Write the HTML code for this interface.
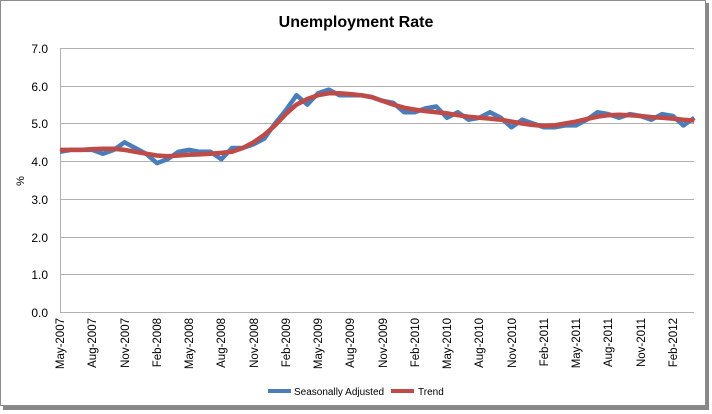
<!DOCTYPE html>
<html><head><style>
body{margin:0;background:#fff;}
svg{display:block;font-family:"Liberation Sans",sans-serif;}
</style></head><body>
<svg width="712" height="414" xmlns="http://www.w3.org/2000/svg">
<rect x="3" y="3" width="706" height="407" fill="#888"/>
<rect x="0.5" y="0.5" width="705" height="405" fill="#fff" stroke="#8c8c8c"/>
<text x="356" y="27" text-anchor="middle" font-size="16" font-weight="bold">Unemployment Rate</text>
<g stroke="#b0b0b0" stroke-width="1">
<line x1="60" y1="48.5" x2="694" y2="48.5"/>
<line x1="60" y1="86.5" x2="694" y2="86.5"/>
<line x1="60" y1="123.5" x2="694" y2="123.5"/>
<line x1="60" y1="161.5" x2="694" y2="161.5"/>
<line x1="60" y1="199.5" x2="694" y2="199.5"/>
<line x1="60" y1="237.5" x2="694" y2="237.5"/>
<line x1="60" y1="274.5" x2="694" y2="274.5"/>
<line x1="60" y1="312.5" x2="694" y2="312.5"/>
<line x1="60.5" y1="48" x2="60.5" y2="312"/>
</g>
<g font-size="12" text-anchor="end">
<text x="48" y="53">7.0</text><text x="48" y="91">6.0</text><text x="48" y="128">5.0</text>
<text x="48" y="166">4.0</text><text x="48" y="204">3.0</text><text x="48" y="242">2.0</text>
<text x="48" y="279">1.0</text><text x="48" y="317">0.0</text>
</g>
<text transform="translate(24,181) rotate(-90)" font-size="11" text-anchor="middle">%</text>
<g id="ticks" stroke="#b0b0b0"></g>
<g id="labels" font-size="11.5" text-anchor="end"></g>
<polyline id="sa" fill="none" stroke="#4a7ebb" stroke-width="4.5" stroke-linejoin="round"/>
<polyline id="tr" fill="none" stroke="#be4b48" stroke-width="4.5" stroke-linejoin="round"/>
<line x1="268" y1="391" x2="291" y2="391" stroke="#4a7ebb" stroke-width="4"/>
<text x="294" y="395" font-size="10">Seasonally Adjusted</text>
<line x1="391" y1="391" x2="414" y2="391" stroke="#be4b48" stroke-width="4"/>
<text x="418" y="395" font-size="10">Trend</text>
<g font-size="11.5" text-anchor="end">
<text transform="translate(64,318) rotate(-90)">May-2007</text>
<text transform="translate(96,318) rotate(-90)">Aug-2007</text>
<text transform="translate(129,318) rotate(-90)">Nov-2007</text>
<text transform="translate(161,318) rotate(-90)">Feb-2008</text>
<text transform="translate(193,318) rotate(-90)">May-2008</text>
<text transform="translate(225,318) rotate(-90)">Aug-2008</text>
<text transform="translate(258,318) rotate(-90)">Nov-2008</text>
<text transform="translate(290,318) rotate(-90)">Feb-2009</text>
<text transform="translate(322,318) rotate(-90)">May-2009</text>
<text transform="translate(354,318) rotate(-90)">Aug-2009</text>
<text transform="translate(387,318) rotate(-90)">Nov-2009</text>
<text transform="translate(419,318) rotate(-90)">Feb-2010</text>
<text transform="translate(451,318) rotate(-90)">May-2010</text>
<text transform="translate(483,318) rotate(-90)">Aug-2010</text>
<text transform="translate(516,318) rotate(-90)">Nov-2010</text>
<text transform="translate(548,318) rotate(-90)">Feb-2011</text>
<text transform="translate(580,318) rotate(-90)">May-2011</text>
<text transform="translate(612,318) rotate(-90)">Aug-2011</text>
<text transform="translate(645,318) rotate(-90)">Nov-2011</text>
<text transform="translate(677,318) rotate(-90)">Feb-2012</text>
</g>
<script>
var sa=[4.25,4.3,4.3,4.3,4.2,4.3,4.5,4.35,4.2,3.95,4.05,4.25,4.3,4.25,4.25,4.05,4.35,4.35,4.45,4.6,5.0,5.35,5.75,5.5,5.8,5.9,5.75,5.75,5.75,5.7,5.6,5.55,5.3,5.3,5.4,5.45,5.15,5.3,5.1,5.15,5.3,5.15,4.9,5.1,5.0,4.9,4.9,4.95,4.95,5.1,5.3,5.25,5.15,5.25,5.2,5.1,5.25,5.2,4.95,5.15];
var tr=[4.3,4.3,4.3,4.32,4.33,4.33,4.3,4.25,4.2,4.15,4.13,4.15,4.17,4.18,4.2,4.22,4.25,4.35,4.5,4.7,4.95,5.25,5.5,5.65,5.75,5.8,5.8,5.78,5.75,5.7,5.6,5.5,5.42,5.37,5.33,5.3,5.27,5.22,5.18,5.15,5.13,5.1,5.05,5.0,4.96,4.94,4.95,5.0,5.05,5.12,5.18,5.22,5.23,5.22,5.2,5.17,5.15,5.13,5.1,5.08];
function pts(a){return a.map(function(v,i){return (60+10.75*i).toFixed(1)+","+(312-37.7*v).toFixed(1)}).join(" ")}
document.getElementById("sa").setAttribute("points",pts(sa));
document.getElementById("tr").setAttribute("points",pts(tr));
var t=document.getElementById("ticks"),s="";
for(var i=0;i<=59;i+=3){var x=60+10.75*i+0.5;s+='<line x1="'+x+'" y1="312" x2="'+x+'" y2="317"/>';}
t.innerHTML=s;
</script>
</svg>
</body></html>
